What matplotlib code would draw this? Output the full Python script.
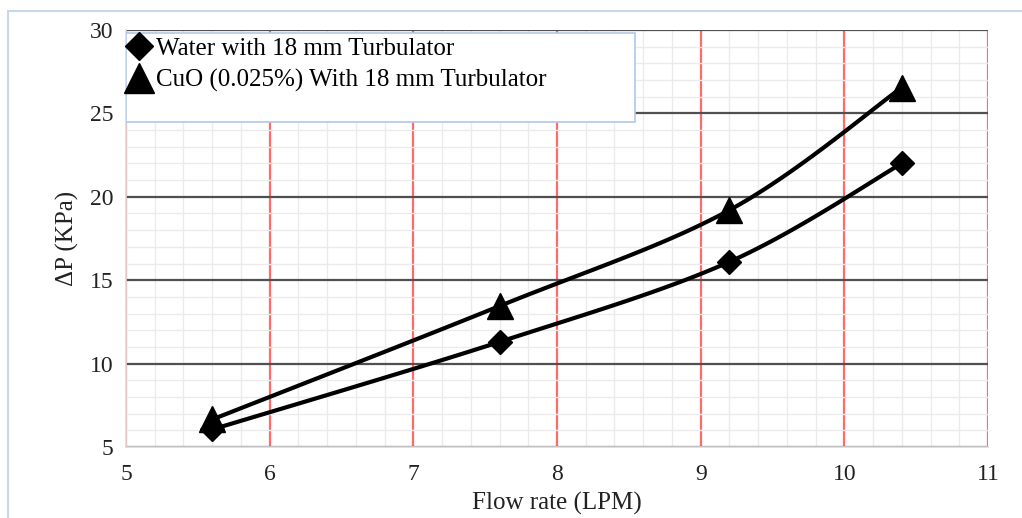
import numpy as np
import matplotlib
matplotlib.use("Agg")
import matplotlib.pyplot as plt
from matplotlib.patches import Rectangle
from matplotlib.lines import Line2D

flow = [5.6, 7.6, 9.2, 10.4]
water = [6.05, 11.3, 16.1, 22.0]
cuo = [6.65, 13.45, 19.2, 26.55]
labels = ["Water with 18 mm Turbulator", "CuO (0.025%) With 18 mm Turbulator"]

plt.rcParams['font.family'] = ['Liberation Serif', 'DejaVu Serif']


def catmull(x, y, n=40):
    p = np.column_stack([x, y]).astype(float)
    p = np.vstack([p[0], p, p[-1]])
    out = []
    t = np.linspace(0, 1, n)[:, None]
    for i in range(1, len(p) - 2):
        p0, p1, p2, p3 = p[i - 1], p[i], p[i + 1], p[i + 2]
        seg = 0.5 * ((2 * p1) + (-p0 + p2) * t + (2 * p0 - 5 * p1 + 4 * p2 - p3) * t ** 2
                     + (-p0 + 3 * p1 - 3 * p2 + p3) * t ** 3)
        out.append(seg if i == 1 else seg[1:])
    s = np.vstack(out)
    return s[:, 0], s[:, 1]


fig = plt.figure(figsize=(10.22, 5.18), dpi=100)
fig.patches.append(Rectangle((8 / 1022, -0.1), 1.2, 1 - 11 / 518 + 0.1, transform=fig.transFigure,
                             fill=False, edgecolor='#c9d6ee', linewidth=1.5))
ax = fig.add_axes([126 / 1022, 1 - 447 / 518, 862 / 1022, 417 / 518])

ax.set_xlim(5, 11)
ax.set_ylim(5, 30)
ax.set_xticks(np.arange(5, 11.01, 1))
ax.set_yticks(np.arange(5, 30.01, 5))
ax.set_xticks(np.arange(5, 11.01, 0.2), minor=True)
ax.set_yticks(np.arange(5, 30.01, 1), minor=True)
ax.grid(which='minor', color='#ebebeb', linewidth=1.0)
ax.grid(which='major', axis='y', color='#505050', linewidth=1.6)
ax.grid(which='major', axis='x', color='#ff6b6b', linewidth=1.6)
ax.set_axisbelow(True)
ax.tick_params(which='both', length=0, labelsize=17, colors='#222222')
ax.tick_params(axis='x', pad=12)
ax.tick_params(axis='y', pad=9)
for side in ['left', 'bottom']:
    ax.spines[side].set_color('#d9d9d9')
    ax.spines[side].set_linewidth(1.2)
ax.spines['top'].set_visible(False)
ax.spines['right'].set_visible(False)

xs, ys = catmull(flow, water)
ax.plot(xs, ys, color='black', lw=3, zorder=3, solid_capstyle='round')
ax.plot(flow, water, 'D', color='black', ms=12.5, zorder=4)
xs, ys = catmull(flow, cuo)
ax.plot(xs, ys, color='black', lw=3, zorder=3, solid_capstyle='round')
ax.plot(flow, cuo, '^', color='black', ms=18.5, zorder=4)

ax.set_xlabel("Flow rate (LPM)", fontsize=18, labelpad=5, color='#222222')
ax.set_ylabel("ΔP (KPa)", fontsize=18, labelpad=8, color='#222222')

ax.add_patch(Rectangle((0, (447 - 122) / 417), (635 - 126) / 862, (122 - 33) / 417,
                       transform=ax.transAxes, facecolor='white', edgecolor='#b4c7e7',
                       linewidth=1.2, zorder=5))
handles = [Line2D([], [], marker='D', color='black', ls='none', ms=14.5),
           Line2D([], [], marker='^', color='black', ls='none', ms=21)]
leg = ax.legend(handles, labels, loc='upper left', bbox_to_anchor=(-0.002, 0.988), frameon=False,
                fontsize=18, handlelength=1.0, handletextpad=0.18, labelspacing=0.37,
                borderaxespad=0, borderpad=0.1)
leg.set_zorder(6)

fig.savefig("out.png", dpi=100)
